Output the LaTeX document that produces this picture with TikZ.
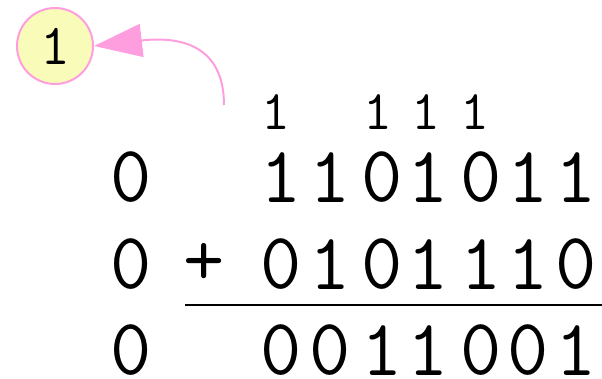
\documentclass[tikz,border=0pt]{standalone}
\usepackage{fontspec}
\usetikzlibrary{arrows.meta}
\definecolor{pinkline}{RGB}{255,158,222}
\definecolor{paleyellow}{RGB}{249,251,185}
\tikzset{
  big/.style={inner sep=0pt, font=\ttfamily\fontsize{80}{80}\selectfont},
  small/.style={inner sep=0pt, font=\ttfamily\fontsize{56}{56}\selectfont},
  bubble/.style={circle, draw=pinkline, line width=2pt, fill=paleyellow, minimum size=76pt, inner sep=0pt, font=\ttfamily\fontsize{58}{58}\selectfont},
  pinkarrow/.style={draw=pinkline, line width=2pt, -{Triangle[length=48pt,width=33pt]}},
  sumline/.style={line width=2pt}
}
\begin{document}
\begin{tikzpicture}[x=1pt,y=-1pt]
\useasboundingbox (0,0) rectangle (602,378);
% bubble
\node[bubble] (c) at (55,46) {1};
\coordinate (s) at (224,105);
\draw[pinkarrow] (s) .. controls (224,45) and (180,36) .. (c.east);
% carries
\node[small] (k1) at (276,112.5) {1};
\node[small] (k2) at (378,112.5) {1};
\node[small] (k3) at (426,112.5) {1};
\node[small] (k4) at (475,112.5) {1};
% row 1
\node[big] (a0) at (131,177.5) {0};
\node[big] (a1) at (281,177.5) {1};
\node[big] (a2) at (330,177.5) {1};
\node[big] (a3) at (382,177.5) {0};
\node[big] (a4) at (428,177.5) {1};
\node[big] (a5) at (481,177.5) {0};
\node[big] (a6) at (528,177.5) {1};
\node[big] (a7) at (576,177.5) {1};
% row 2
\node[big] (b0) at (131,264.5) {0};
\node[big] (plus) at (204,264.5) {+};
\node[big] (b1) at (281,264.5) {0};
\node[big] (b2) at (330,264.5) {1};
\node[big] (b3) at (382,264.5) {0};
\node[big] (b4) at (428,264.5) {1};
\node[big] (b5) at (481,264.5) {1};
\node[big] (b6) at (528,264.5) {1};
\node[big] (b7) at (576,264.5) {0};
% line
\coordinate (l1) at (185,305);
\coordinate (l2) at (602,305);
\draw[sumline] (l1) -- (l2);
% row 3
\node[big] (r0) at (131,350.5) {0};
\node[big] (r1) at (281,350.5) {0};
\node[big] (r2) at (330,350.5) {0};
\node[big] (r3) at (382,350.5) {1};
\node[big] (r4) at (428,350.5) {1};
\node[big] (r5) at (481,350.5) {0};
\node[big] (r6) at (528,350.5) {0};
\node[big] (r7) at (576,350.5) {1};
\end{tikzpicture}
\end{document}
